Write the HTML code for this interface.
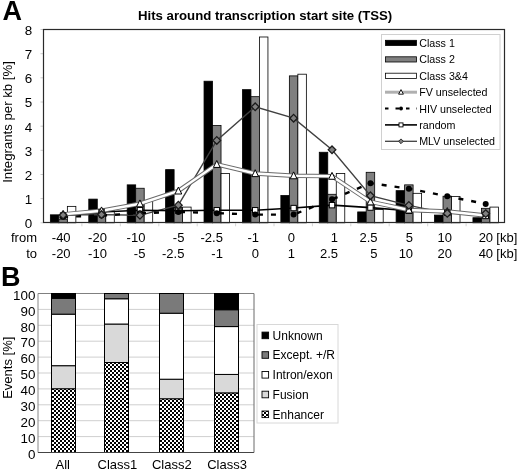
<!DOCTYPE html>
<html><head><meta charset="utf-8"><style>
html,body{margin:0;padding:0;background:#fff;}
body{width:520px;height:471px;position:relative;overflow:hidden;font-family:"Liberation Sans", sans-serif;}
</style></head><body>
<svg width="520" height="471" viewBox="0 0 520 471" style="position:absolute;left:0;top:0;filter:blur(0.3px);font-family:&quot;Liberation Sans&quot;, sans-serif">
<defs><pattern id="chk" width="4" height="4" patternUnits="userSpaceOnUse"><rect width="4" height="4" fill="#fff"/><rect width="2" height="2" fill="#000"/><rect x="2" y="2" width="2" height="2" fill="#000"/></pattern></defs>
<rect width="520" height="471" fill="#fff"/>
<text x="2.5" y="20.4" font-size="27" font-weight="bold" fill="#000">A</text>
<text x="138" y="20.4" font-size="13.2" font-weight="bold" fill="#000">Hits around transcription start site (TSS)</text>
<text x="32.2" y="228.2" font-size="13.4" text-anchor="end" fill="#000">0</text>
<line x1="40.5" x2="43.5" y1="222.8" y2="222.8" stroke="#ccc" stroke-width="1"/>
<text x="32.2" y="204.0" font-size="13.4" text-anchor="end" fill="#000">1</text>
<line x1="40.5" x2="43.5" y1="198.6" y2="198.6" stroke="#ccc" stroke-width="1"/>
<text x="32.2" y="179.9" font-size="13.4" text-anchor="end" fill="#000">2</text>
<line x1="40.5" x2="43.5" y1="174.5" y2="174.5" stroke="#ccc" stroke-width="1"/>
<text x="32.2" y="155.7" font-size="13.4" text-anchor="end" fill="#000">3</text>
<line x1="40.5" x2="43.5" y1="150.3" y2="150.3" stroke="#ccc" stroke-width="1"/>
<text x="32.2" y="131.6" font-size="13.4" text-anchor="end" fill="#000">4</text>
<line x1="40.5" x2="43.5" y1="126.2" y2="126.2" stroke="#ccc" stroke-width="1"/>
<text x="32.2" y="107.4" font-size="13.4" text-anchor="end" fill="#000">5</text>
<line x1="40.5" x2="43.5" y1="102.0" y2="102.0" stroke="#ccc" stroke-width="1"/>
<text x="32.2" y="83.2" font-size="13.4" text-anchor="end" fill="#000">6</text>
<line x1="40.5" x2="43.5" y1="77.8" y2="77.8" stroke="#ccc" stroke-width="1"/>
<text x="32.2" y="59.1" font-size="13.4" text-anchor="end" fill="#000">7</text>
<line x1="40.5" x2="43.5" y1="53.7" y2="53.7" stroke="#ccc" stroke-width="1"/>
<text x="32.2" y="34.9" font-size="13.4" text-anchor="end" fill="#000">8</text>
<line x1="40.5" x2="43.5" y1="29.5" y2="29.5" stroke="#ccc" stroke-width="1"/>
<text transform="translate(12.1,182.8) rotate(-90)" font-size="13.2" fill="#000">Integrants per kb [%]</text>
<rect x="50.36" y="214.83" width="8.5" height="7.97" fill="#000" stroke="#000" stroke-width="0.8"/>
<rect x="58.86" y="219.18" width="8.5" height="3.62" fill="#808080" stroke="#000" stroke-width="0.8"/>
<rect x="67.36" y="206.37" width="8.5" height="16.43" fill="#fff" stroke="#000" stroke-width="0.8"/>
<rect x="88.78" y="199.12" width="8.5" height="23.68" fill="#000" stroke="#000" stroke-width="0.8"/>
<rect x="97.28" y="211.93" width="8.5" height="10.87" fill="#808080" stroke="#000" stroke-width="0.8"/>
<rect x="105.78" y="210.72" width="8.5" height="12.08" fill="#fff" stroke="#000" stroke-width="0.8"/>
<rect x="127.19" y="184.86" width="8.5" height="37.94" fill="#000" stroke="#000" stroke-width="0.8"/>
<rect x="135.69" y="188.25" width="8.5" height="34.55" fill="#808080" stroke="#000" stroke-width="0.8"/>
<rect x="144.19" y="200.57" width="8.5" height="22.23" fill="#fff" stroke="#000" stroke-width="0.8"/>
<rect x="165.61" y="169.64" width="8.5" height="53.16" fill="#000" stroke="#000" stroke-width="0.8"/>
<rect x="174.11" y="207.58" width="8.5" height="15.22" fill="#808080" stroke="#000" stroke-width="0.8"/>
<rect x="182.61" y="207.09" width="8.5" height="15.71" fill="#fff" stroke="#000" stroke-width="0.8"/>
<rect x="204.03" y="81.21" width="8.5" height="141.59" fill="#000" stroke="#000" stroke-width="0.8"/>
<rect x="212.53" y="125.43" width="8.5" height="97.37" fill="#808080" stroke="#000" stroke-width="0.8"/>
<rect x="221.03" y="173.51" width="8.5" height="49.29" fill="#fff" stroke="#000" stroke-width="0.8"/>
<rect x="242.44" y="89.66" width="8.5" height="133.14" fill="#000" stroke="#000" stroke-width="0.8"/>
<rect x="250.94" y="96.67" width="8.5" height="126.13" fill="#808080" stroke="#000" stroke-width="0.8"/>
<rect x="259.44" y="36.99" width="8.5" height="185.81" fill="#fff" stroke="#000" stroke-width="0.8"/>
<rect x="280.86" y="195.50" width="8.5" height="27.30" fill="#000" stroke="#000" stroke-width="0.8"/>
<rect x="289.36" y="75.89" width="8.5" height="146.91" fill="#808080" stroke="#000" stroke-width="0.8"/>
<rect x="297.86" y="74.20" width="8.5" height="148.60" fill="#fff" stroke="#000" stroke-width="0.8"/>
<rect x="319.27" y="152.25" width="8.5" height="70.55" fill="#000" stroke="#000" stroke-width="0.8"/>
<rect x="327.77" y="194.29" width="8.5" height="28.51" fill="#808080" stroke="#000" stroke-width="0.8"/>
<rect x="336.27" y="173.51" width="8.5" height="49.29" fill="#fff" stroke="#000" stroke-width="0.8"/>
<rect x="357.69" y="211.93" width="8.5" height="10.87" fill="#000" stroke="#000" stroke-width="0.8"/>
<rect x="366.19" y="172.30" width="8.5" height="50.50" fill="#808080" stroke="#000" stroke-width="0.8"/>
<rect x="374.69" y="209.51" width="8.5" height="13.29" fill="#fff" stroke="#000" stroke-width="0.8"/>
<rect x="396.11" y="190.66" width="8.5" height="32.14" fill="#000" stroke="#000" stroke-width="0.8"/>
<rect x="404.61" y="184.86" width="8.5" height="37.94" fill="#808080" stroke="#000" stroke-width="0.8"/>
<rect x="413.11" y="193.32" width="8.5" height="29.48" fill="#fff" stroke="#000" stroke-width="0.8"/>
<rect x="434.52" y="215.07" width="8.5" height="7.73" fill="#000" stroke="#000" stroke-width="0.8"/>
<rect x="443.02" y="196.22" width="8.5" height="26.58" fill="#808080" stroke="#000" stroke-width="0.8"/>
<rect x="451.52" y="196.46" width="8.5" height="26.34" fill="#fff" stroke="#000" stroke-width="0.8"/>
<rect x="472.94" y="217.73" width="8.5" height="5.07" fill="#000" stroke="#000" stroke-width="0.8"/>
<rect x="481.44" y="208.30" width="8.5" height="14.50" fill="#808080" stroke="#000" stroke-width="0.8"/>
<rect x="489.94" y="207.09" width="8.5" height="15.71" fill="#fff" stroke="#000" stroke-width="0.8"/>
<polyline points="63.11,215.07 101.53,214.58 139.94,215.31 178.36,205.16 216.78,140.41 255.19,106.82 293.61,118.18 332.02,149.83 370.44,195.74 408.86,205.40 447.27,213.38 485.69,213.62" fill="none" stroke="#404040" stroke-width="1.4"/>
<polyline points="63.11,215.55 101.53,211.93 139.94,210.24 178.36,210.72 216.78,210.24 255.19,210.24 293.61,208.06 332.02,205.16 370.44,207.58 408.86,210.72 447.27,212.65 485.69,215.07" fill="none" stroke="#000" stroke-width="1.6"/>
<polyline points="63.11,216.76 101.53,215.55 139.94,213.14 178.36,211.93 216.78,213.14 255.19,214.58 293.61,214.58 332.02,199.36 370.44,183.17 408.86,188.73 447.27,196.22 485.69,203.95" fill="none" stroke="#000" stroke-width="2.4" stroke-dasharray="5 8"/>
<polyline points="63.11,214.34 101.53,210.72 139.94,203.71 178.36,190.91 216.78,164.33 255.19,173.51 293.61,175.68 332.02,176.17 370.44,201.78 408.86,209.99 447.27,211.44 485.69,215.55" fill="none" stroke="#6a6a6a" stroke-width="4.4"/>
<polyline points="63.11,214.34 101.53,210.72 139.94,203.71 178.36,190.91 216.78,164.33 255.19,173.51 293.61,175.68 332.02,176.17 370.44,201.78 408.86,209.99 447.27,211.44 485.69,215.55" fill="none" stroke="#fff" stroke-width="2.5"/>
<rect x="60.41" y="212.85" width="5.4" height="5.4" fill="#fff" stroke="#000" stroke-width="1"/>
<circle cx="63.11" cy="216.76" r="3" fill="#000"/>
<path d="M63.11,210.54 L66.51,217.44 L59.71,217.44 Z" fill="#fff" stroke="#000" stroke-width="1"/>
<path d="M63.11,211.27 L66.91,215.07 L63.11,218.87 L59.31,215.07 Z" fill="#808080" stroke="#1a1a1a" stroke-width="1.3"/>
<rect x="98.83" y="209.23" width="5.4" height="5.4" fill="#fff" stroke="#000" stroke-width="1"/>
<circle cx="101.53" cy="215.55" r="3" fill="#000"/>
<path d="M101.53,206.92 L104.93,213.82 L98.12,213.82 Z" fill="#fff" stroke="#000" stroke-width="1"/>
<path d="M101.53,210.78 L105.33,214.58 L101.53,218.38 L97.73,214.58 Z" fill="#808080" stroke="#1a1a1a" stroke-width="1.3"/>
<rect x="137.24" y="207.54" width="5.4" height="5.4" fill="#fff" stroke="#000" stroke-width="1"/>
<circle cx="139.94" cy="213.14" r="3" fill="#000"/>
<path d="M139.94,199.91 L143.34,206.81 L136.54,206.81 Z" fill="#fff" stroke="#000" stroke-width="1"/>
<path d="M139.94,211.51 L143.74,215.31 L139.94,219.11 L136.14,215.31 Z" fill="#808080" stroke="#1a1a1a" stroke-width="1.3"/>
<rect x="175.66" y="208.02" width="5.4" height="5.4" fill="#fff" stroke="#000" stroke-width="1"/>
<circle cx="178.36" cy="211.93" r="3" fill="#000"/>
<path d="M178.36,187.11 L181.76,194.01 L174.96,194.01 Z" fill="#fff" stroke="#000" stroke-width="1"/>
<path d="M178.36,201.36 L182.16,205.16 L178.36,208.96 L174.56,205.16 Z" fill="#808080" stroke="#1a1a1a" stroke-width="1.3"/>
<rect x="214.08" y="207.54" width="5.4" height="5.4" fill="#fff" stroke="#000" stroke-width="1"/>
<circle cx="216.78" cy="213.14" r="3" fill="#000"/>
<path d="M216.78,160.53 L220.18,167.43 L213.38,167.43 Z" fill="#fff" stroke="#000" stroke-width="1"/>
<path d="M216.78,136.61 L220.58,140.41 L216.78,144.21 L212.97,140.41 Z" fill="#808080" stroke="#1a1a1a" stroke-width="1.3"/>
<rect x="252.49" y="207.54" width="5.4" height="5.4" fill="#fff" stroke="#000" stroke-width="1"/>
<circle cx="255.19" cy="214.58" r="3" fill="#000"/>
<path d="M255.19,169.71 L258.59,176.61 L251.79,176.61 Z" fill="#fff" stroke="#000" stroke-width="1"/>
<path d="M255.19,103.02 L258.99,106.82 L255.19,110.62 L251.39,106.82 Z" fill="#808080" stroke="#1a1a1a" stroke-width="1.3"/>
<rect x="290.91" y="205.36" width="5.4" height="5.4" fill="#fff" stroke="#000" stroke-width="1"/>
<circle cx="293.61" cy="214.58" r="3" fill="#000"/>
<path d="M293.61,171.88 L297.01,178.78 L290.21,178.78 Z" fill="#fff" stroke="#000" stroke-width="1"/>
<path d="M293.61,114.38 L297.41,118.18 L293.61,121.98 L289.81,118.18 Z" fill="#808080" stroke="#1a1a1a" stroke-width="1.3"/>
<rect x="329.32" y="202.46" width="5.4" height="5.4" fill="#fff" stroke="#000" stroke-width="1"/>
<circle cx="332.02" cy="199.36" r="3" fill="#000"/>
<path d="M332.02,172.37 L335.42,179.27 L328.62,179.27 Z" fill="#fff" stroke="#000" stroke-width="1"/>
<path d="M332.02,146.03 L335.82,149.83 L332.02,153.63 L328.22,149.83 Z" fill="#808080" stroke="#1a1a1a" stroke-width="1.3"/>
<rect x="367.74" y="204.88" width="5.4" height="5.4" fill="#fff" stroke="#000" stroke-width="1"/>
<circle cx="370.44" cy="183.17" r="3" fill="#000"/>
<path d="M370.44,197.98 L373.84,204.88 L367.04,204.88 Z" fill="#fff" stroke="#000" stroke-width="1"/>
<path d="M370.44,191.94 L374.24,195.74 L370.44,199.54 L366.64,195.74 Z" fill="#808080" stroke="#1a1a1a" stroke-width="1.3"/>
<rect x="406.16" y="208.02" width="5.4" height="5.4" fill="#fff" stroke="#000" stroke-width="1"/>
<circle cx="408.86" cy="188.73" r="3" fill="#000"/>
<path d="M408.86,206.19 L412.26,213.09 L405.46,213.09 Z" fill="#fff" stroke="#000" stroke-width="1"/>
<path d="M408.86,201.60 L412.66,205.40 L408.86,209.20 L405.06,205.40 Z" fill="#808080" stroke="#1a1a1a" stroke-width="1.3"/>
<rect x="444.57" y="209.95" width="5.4" height="5.4" fill="#fff" stroke="#000" stroke-width="1"/>
<circle cx="447.27" cy="196.22" r="3" fill="#000"/>
<path d="M447.27,207.64 L450.67,214.54 L443.88,214.54 Z" fill="#fff" stroke="#000" stroke-width="1"/>
<path d="M447.27,209.58 L451.07,213.38 L447.27,217.18 L443.47,213.38 Z" fill="#808080" stroke="#1a1a1a" stroke-width="1.3"/>
<rect x="482.99" y="212.37" width="5.4" height="5.4" fill="#fff" stroke="#000" stroke-width="1"/>
<circle cx="485.69" cy="203.95" r="3" fill="#000"/>
<path d="M485.69,211.75 L489.09,218.65 L482.29,218.65 Z" fill="#fff" stroke="#000" stroke-width="1"/>
<path d="M485.69,209.82 L489.49,213.62 L485.69,217.42 L481.89,213.62 Z" fill="#808080" stroke="#1a1a1a" stroke-width="1.3"/>
<line x1="81.9" x2="81.9" y1="223.3" y2="226.3" stroke="#d4d4d4" stroke-width="1"/>
<line x1="120.3" x2="120.3" y1="223.3" y2="226.3" stroke="#d4d4d4" stroke-width="1"/>
<line x1="158.8" x2="158.8" y1="223.3" y2="226.3" stroke="#d4d4d4" stroke-width="1"/>
<line x1="197.2" x2="197.2" y1="223.3" y2="226.3" stroke="#d4d4d4" stroke-width="1"/>
<line x1="235.6" x2="235.6" y1="223.3" y2="226.3" stroke="#d4d4d4" stroke-width="1"/>
<line x1="274.0" x2="274.0" y1="223.3" y2="226.3" stroke="#d4d4d4" stroke-width="1"/>
<line x1="312.4" x2="312.4" y1="223.3" y2="226.3" stroke="#d4d4d4" stroke-width="1"/>
<line x1="350.8" x2="350.8" y1="223.3" y2="226.3" stroke="#d4d4d4" stroke-width="1"/>
<line x1="389.2" x2="389.2" y1="223.3" y2="226.3" stroke="#d4d4d4" stroke-width="1"/>
<line x1="427.7" x2="427.7" y1="223.3" y2="226.3" stroke="#d4d4d4" stroke-width="1"/>
<line x1="466.1" x2="466.1" y1="223.3" y2="226.3" stroke="#d4d4d4" stroke-width="1"/>
<rect x="43.5" y="29.5" width="461.0" height="193.00" fill="none" stroke="#2a2a2a" stroke-width="1.2"/>
<rect x="381.5" y="34.5" width="118.5" height="115.0" fill="#fff" stroke="#d0d0d0" stroke-width="1"/>
<text x="419.2" y="46.8" font-size="10.7" fill="#000">Class 1</text>
<text x="419.2" y="63.3" font-size="10.7" fill="#000">Class 2</text>
<text x="419.2" y="79.7" font-size="10.7" fill="#000">Class 3&amp;4</text>
<text x="419.2" y="96.1" font-size="10.7" fill="#000">FV unselected</text>
<text x="419.2" y="112.5" font-size="10.7" fill="#000">HIV unselected</text>
<text x="419.2" y="128.8" font-size="10.7" fill="#000">random</text>
<text x="419.2" y="145.2" font-size="10.7" fill="#000">MLV unselected</text>
<rect x="385.5" y="40.3" width="31" height="5.2" fill="#000" stroke="#000" stroke-width="0.8"/>
<rect x="385.5" y="56.8" width="31" height="5.2" fill="#808080" stroke="#000" stroke-width="0.8"/>
<rect x="385.5" y="73.2" width="31" height="5.2" fill="#fff" stroke="#000" stroke-width="0.8"/>
<line x1="385" x2="417" y1="92.2" y2="92.2" stroke="#b0b0b0" stroke-width="3"/>
<path d="M401,89.60000000000001 L403.4,94.2 L398.6,94.2 Z" fill="#fff" stroke="#000" stroke-width="0.9"/>
<line x1="385" x2="417" y1="108.6" y2="108.6" stroke="#000" stroke-width="2" stroke-dasharray="3.5 7"/>
<circle cx="401" cy="108.6" r="2" fill="#000"/>
<line x1="385" x2="417" y1="124.9" y2="124.9" stroke="#000" stroke-width="1.6"/>
<rect x="399" y="122.9" width="4" height="4" fill="#fff" stroke="#000" stroke-width="0.9"/>
<line x1="385" x2="417" y1="141.3" y2="141.3" stroke="#404040" stroke-width="1.3"/>
<path d="M401,138.9 L403.4,141.3 L401,143.70000000000002 L398.6,141.3 Z" fill="#808080" stroke="#222" stroke-width="0.9"/>
<text x="70.6" y="242.2" font-size="13" text-anchor="end" fill="#000">-40</text>
<text x="70.6" y="258.2" font-size="13" text-anchor="end" fill="#000">-20</text>
<text x="106.9" y="242.2" font-size="13" text-anchor="end" fill="#000">-20</text>
<text x="106.9" y="258.2" font-size="13" text-anchor="end" fill="#000">-10</text>
<text x="145.4" y="242.2" font-size="13" text-anchor="end" fill="#000">-10</text>
<text x="145.4" y="258.2" font-size="13" text-anchor="end" fill="#000">-5</text>
<text x="184.4" y="242.2" font-size="13" text-anchor="end" fill="#000">-5</text>
<text x="184.4" y="258.2" font-size="13" text-anchor="end" fill="#000">-2.5</text>
<text x="222.9" y="242.2" font-size="13" text-anchor="end" fill="#000">-2.5</text>
<text x="222.9" y="258.2" font-size="13" text-anchor="end" fill="#000">-1</text>
<text x="259.1" y="242.2" font-size="13" text-anchor="end" fill="#000">-1</text>
<text x="259.1" y="258.2" font-size="13" text-anchor="end" fill="#000">0</text>
<text x="295.0" y="242.2" font-size="13" text-anchor="end" fill="#000">0</text>
<text x="295.0" y="258.2" font-size="13" text-anchor="end" fill="#000">1</text>
<text x="338.1" y="242.2" font-size="13" text-anchor="end" fill="#000">1</text>
<text x="338.1" y="258.2" font-size="13" text-anchor="end" fill="#000">2.5</text>
<text x="377.6" y="242.2" font-size="13" text-anchor="end" fill="#000">2.5</text>
<text x="377.6" y="258.2" font-size="13" text-anchor="end" fill="#000">5</text>
<text x="413.1" y="242.2" font-size="13" text-anchor="end" fill="#000">5</text>
<text x="413.1" y="258.2" font-size="13" text-anchor="end" fill="#000">10</text>
<text x="451.9" y="242.2" font-size="13" text-anchor="end" fill="#000">10</text>
<text x="451.9" y="258.2" font-size="13" text-anchor="end" fill="#000">20</text>
<text x="493.1" y="242.2" font-size="13" text-anchor="end" fill="#000">20</text>
<text x="493.1" y="258.2" font-size="13" text-anchor="end" fill="#000">40</text>
<text x="496.3" y="242.2" font-size="13" fill="#000">[kb]</text>
<text x="496.3" y="258.2" font-size="13" fill="#000">[kb]</text>
<text x="37" y="241.8" font-size="13" text-anchor="end" fill="#000">from</text>
<text x="37" y="257.8" font-size="13" text-anchor="end" fill="#000">to</text>
<text x="1" y="286.2" font-size="27" font-weight="bold" fill="#000">B</text>
<line x1="38.0" x2="254" y1="436.60" y2="436.60" stroke="#cfcfcf" stroke-width="1"/>
<line x1="38.0" x2="254" y1="420.70" y2="420.70" stroke="#cfcfcf" stroke-width="1"/>
<line x1="38.0" x2="254" y1="404.80" y2="404.80" stroke="#cfcfcf" stroke-width="1"/>
<line x1="38.0" x2="254" y1="388.90" y2="388.90" stroke="#cfcfcf" stroke-width="1"/>
<line x1="38.0" x2="254" y1="373.00" y2="373.00" stroke="#cfcfcf" stroke-width="1"/>
<line x1="38.0" x2="254" y1="357.10" y2="357.10" stroke="#cfcfcf" stroke-width="1"/>
<line x1="38.0" x2="254" y1="341.20" y2="341.20" stroke="#cfcfcf" stroke-width="1"/>
<line x1="38.0" x2="254" y1="325.30" y2="325.30" stroke="#cfcfcf" stroke-width="1"/>
<line x1="38.0" x2="254" y1="309.40" y2="309.40" stroke="#cfcfcf" stroke-width="1"/>
<line x1="38.0" x2="254" y1="293.50" y2="293.50" stroke="#cfcfcf" stroke-width="1"/>
<line x1="38.0" x2="254" y1="293.5" y2="293.5" stroke="#808080" stroke-width="1"/>
<text x="35.4" y="458.7" font-size="13.4" text-anchor="end" fill="#000">0</text>
<text x="35.4" y="442.8" font-size="13.4" text-anchor="end" fill="#000">10</text>
<text x="35.4" y="426.9" font-size="13.4" text-anchor="end" fill="#000">20</text>
<text x="35.4" y="411.0" font-size="13.4" text-anchor="end" fill="#000">30</text>
<text x="35.4" y="395.1" font-size="13.4" text-anchor="end" fill="#000">40</text>
<text x="35.4" y="379.2" font-size="13.4" text-anchor="end" fill="#000">50</text>
<text x="35.4" y="363.3" font-size="13.4" text-anchor="end" fill="#000">60</text>
<text x="35.4" y="347.4" font-size="13.4" text-anchor="end" fill="#000">70</text>
<text x="35.4" y="331.5" font-size="13.4" text-anchor="end" fill="#000">80</text>
<text x="35.4" y="315.6" font-size="13.4" text-anchor="end" fill="#000">90</text>
<text x="35.4" y="299.7" font-size="13.4" text-anchor="end" fill="#000">100</text>
<text transform="translate(12.4,398.8) rotate(-90)" font-size="13" fill="#000">Events [%]</text>
<rect x="51.50" y="388.74" width="24.0" height="63.76" fill="url(#chk)" stroke="#000" stroke-width="1"/>
<rect x="51.50" y="365.69" width="24.0" height="23.05" fill="#d9d9d9" stroke="#000" stroke-width="1"/>
<rect x="51.50" y="314.17" width="24.0" height="51.52" fill="#fff" stroke="#000" stroke-width="1"/>
<rect x="51.50" y="298.27" width="24.0" height="15.90" fill="#7a7a7a" stroke="#000" stroke-width="1"/>
<rect x="51.50" y="293.50" width="24.0" height="4.77" fill="#000" stroke="#000" stroke-width="1"/>
<rect x="104.50" y="362.51" width="24.0" height="89.99" fill="url(#chk)" stroke="#000" stroke-width="1"/>
<rect x="104.50" y="324.03" width="24.0" height="38.48" fill="#d9d9d9" stroke="#000" stroke-width="1"/>
<rect x="104.50" y="298.75" width="24.0" height="25.28" fill="#fff" stroke="#000" stroke-width="1"/>
<rect x="104.50" y="293.50" width="24.0" height="5.25" fill="#7a7a7a" stroke="#000" stroke-width="1"/>
<rect x="159.50" y="398.76" width="24.0" height="53.74" fill="url(#chk)" stroke="#000" stroke-width="1"/>
<rect x="159.50" y="379.20" width="24.0" height="19.56" fill="#d9d9d9" stroke="#000" stroke-width="1"/>
<rect x="159.50" y="313.22" width="24.0" height="65.99" fill="#fff" stroke="#000" stroke-width="1"/>
<rect x="159.50" y="293.50" width="24.0" height="19.72" fill="#7a7a7a" stroke="#000" stroke-width="1"/>
<rect x="214.50" y="392.88" width="24.0" height="59.62" fill="url(#chk)" stroke="#000" stroke-width="1"/>
<rect x="214.50" y="374.43" width="24.0" height="18.44" fill="#d9d9d9" stroke="#000" stroke-width="1"/>
<rect x="214.50" y="326.57" width="24.0" height="47.86" fill="#fff" stroke="#000" stroke-width="1"/>
<rect x="214.50" y="309.72" width="24.0" height="16.85" fill="#7a7a7a" stroke="#000" stroke-width="1"/>
<rect x="214.50" y="293.50" width="24.0" height="16.22" fill="#000" stroke="#000" stroke-width="1"/>
<line x1="38.0" x2="38.0" y1="293.5" y2="452.5" stroke="#888" stroke-width="1"/>
<line x1="38.0" x2="254" y1="452.5" y2="452.5" stroke="#444" stroke-width="1"/>
<line x1="254" x2="254" y1="293.5" y2="452.5" stroke="#6a6a6a" stroke-width="1"/>
<text x="62.8" y="469" font-size="13" text-anchor="middle" fill="#000">All</text>
<text x="117.4" y="469" font-size="13" text-anchor="middle" fill="#000">Class1</text>
<text x="171.8" y="469" font-size="13" text-anchor="middle" fill="#000">Class2</text>
<text x="227.0" y="469" font-size="13" text-anchor="middle" fill="#000">Class3</text>
<rect x="257" y="324.5" width="81" height="98.5" fill="#fff" stroke="#d8d8d8" stroke-width="1"/>
<rect x="262" y="332.1" width="6.6" height="6.6" fill="#000" stroke="#000" stroke-width="0.9"/>
<text x="272.6" y="339.7" font-size="12" fill="#000">Unknown</text>
<rect x="262" y="351.7" width="6.6" height="6.6" fill="#7a7a7a" stroke="#000" stroke-width="0.9"/>
<text x="272.6" y="359.3" font-size="12" fill="#000">Except. +/R</text>
<rect x="262" y="371.5" width="6.6" height="6.6" fill="#fff" stroke="#000" stroke-width="0.9"/>
<text x="272.6" y="379.1" font-size="12" fill="#000">Intron/exon</text>
<rect x="262" y="391.2" width="6.6" height="6.6" fill="#d9d9d9" stroke="#000" stroke-width="0.9"/>
<text x="272.6" y="398.8" font-size="12" fill="#000">Fusion</text>
<rect x="262" y="411.0" width="6.6" height="6.6" fill="url(#chk)" stroke="#000" stroke-width="0.9"/>
<text x="272.6" y="418.6" font-size="12" fill="#000">Enhancer</text>
</svg>
</body></html>
